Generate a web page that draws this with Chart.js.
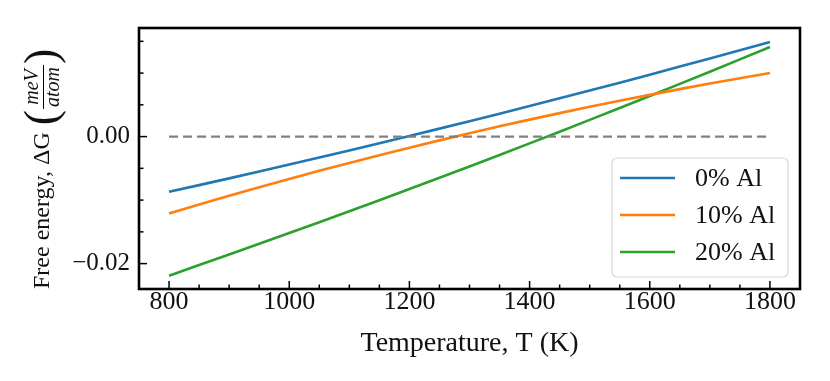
<!DOCTYPE html>
<html>
<head>
<meta charset="utf-8">
<script src="https://cdn.jsdelivr.net/npm/chart.js@4.4.1/dist/chart.umd.min.js"></script>
<style>
  html, body { margin: 0; padding: 0; background: #fff; }
  #wrap { width: 830px; height: 381px; }
</style>
</head>
<body>
<div id="wrap"><canvas id="myChart" width="830" height="381"></canvas></div>
<script>
// temperature (K)
var temps = [800, 900, 1000, 1100, 1200, 1300, 1400, 1500, 1600, 1700, 1800];

// free energy values
var al0  = [-0.0087, -0.00658, -0.00441, -0.00219, 0.00009, 0.00243, 0.00481, 0.00725, 0.00975, 0.0123, 0.0149];
var al10 = [-0.0121, -0.00932, -0.00667, -0.00415, -0.00175, 0.00053, 0.00267, 0.00469, 0.00657, 0.00836, 0.0100];
var al20 = [-0.0219, -0.01856, -0.01519, -0.01176, -0.00826, -0.0047, -0.00107, 0.00263, 0.00639, 0.01022, 0.0141];

var seriesLabels = ['0% Al', '10% Al', '20% Al'];
var seriesColors = ['#1f77b4', '#ff7f0e', '#2ca02c'];

var zeroLineT = [800, 1800];
var zeroLineG = [0, 0];

var xTicks = [800, 1000, 1200, 1400, 1600, 1800];
var yTicks = [-0.02, 0.00];

var serif = "'Liberation Serif', 'DejaVu Serif', serif";

function toPoints(xs, ys) {
    return xs.map(function(x, i) { return {x: x, y: ys[i]}; });
}

// inward ticks, box, y label and legend
var frame = {
    id: 'frame',
    afterDraw: function(chart) {
        var ctx = chart.ctx, a = chart.chartArea;
        var xs = chart.scales.x, ys = chart.scales.y;
        ctx.save();
        ctx.strokeStyle = '#000';
        ctx.lineWidth = 1.5;
        for (var t = 800; t <= 1800; t += 50) {
            var px = xs.getPixelForValue(t);
            var len = (t % 200 === 0) ? 8 : 4.5;
            ctx.beginPath();
            ctx.moveTo(px, a.bottom);
            ctx.lineTo(px, a.bottom - len);
            ctx.stroke();
        }
        for (var k = -4; k <= 3; k++) {
            var v = k * 0.005;
            var py = ys.getPixelForValue(v);
            var l2 = (k % 4 === 0) ? 8 : 4.5;
            ctx.beginPath();
            ctx.moveTo(a.left, py);
            ctx.lineTo(a.left + l2, py);
            ctx.stroke();
        }
        ctx.lineWidth = 2.6;
        ctx.strokeRect(a.left, a.top, a.right - a.left, a.bottom - a.top);

        // y label
        ctx.translate(43, 289);
        ctx.rotate(-Math.PI / 2);
        ctx.fillStyle = '#111';
        ctx.textBaseline = 'middle';
        ctx.textAlign = 'left';
        ctx.font = '24px ' + serif;
        var main = 'Free energy, \u0394G';
        ctx.fillText(main, 0, 0);
        var x0 = ctx.measureText(main).width + 7;
        ctx.font = '300 46px ' + serif;
        ctx.fillText('(', x0, 1);
        var pw = ctx.measureText('(').width;
        ctx.font = 'italic 20px ' + serif;
        var wTop = ctx.measureText('meV').width, wBot = ctx.measureText('atom').width;
        var fw = Math.max(wTop, wBot) + 4;
        var fx = x0 + pw + 1;
        ctx.textAlign = 'center';
        ctx.fillText('meV', fx + fw / 2, -10);
        ctx.fillText('atom', fx + fw / 2, 11);
        ctx.lineWidth = 1;
        ctx.beginPath();
        ctx.moveTo(fx, 0.5);
        ctx.lineTo(fx + fw, 0.5);
        ctx.stroke();
        ctx.textAlign = 'left';
        ctx.font = '300 46px ' + serif;
        ctx.fillText(')', fx + fw + 1, 1);
        ctx.restore();

        // legend
        var lx = 612, ly = 158, lw = 176, lh = 119;
        ctx.save();
        ctx.fillStyle = 'rgba(255,255,255,0.85)';
        ctx.strokeStyle = '#d6d6d6';
        ctx.lineWidth = 1.2;
        ctx.beginPath();
        ctx.roundRect(lx, ly, lw, lh, 5);
        ctx.fill();
        ctx.stroke();
        ctx.font = '26px ' + serif;
        ctx.textBaseline = 'middle';
        ctx.fillStyle = '#111';
        for (var i = 0; i < seriesLabels.length; i++) {
            var ry = 178 + i * 37;
            ctx.strokeStyle = seriesColors[i];
            ctx.lineWidth = 2.6;
            ctx.beginPath();
            ctx.moveTo(620, ry);
            ctx.lineTo(675, ry);
            ctx.stroke();
            ctx.fillText(seriesLabels[i], 695, ry + 1);
        }
        ctx.restore();
    }
};

var ctx = document.getElementById('myChart').getContext('2d');
var myChart = new Chart(ctx, {
    type: 'line',
    data: {
        datasets: [
            {label: 'zero', data: toPoints(zeroLineT, zeroLineG), borderColor: '#808080', borderWidth: 2.4, borderDash: [9, 5], pointRadius: 0},
            {label: seriesLabels[0], data: toPoints(temps, al0), borderColor: seriesColors[0], borderWidth: 2.6, pointRadius: 0, tension: 0.3},
            {label: seriesLabels[1], data: toPoints(temps, al10), borderColor: seriesColors[1], borderWidth: 2.6, pointRadius: 0, tension: 0.3},
            {label: seriesLabels[2], data: toPoints(temps, al20), borderColor: seriesColors[2], borderWidth: 2.6, pointRadius: 0, tension: 0.3}
        ]
    },
    options: {
        responsive: false,
        animation: false,
        layout: {padding: {left: 0, right: 30, top: 28, bottom: 0}},
        plugins: {legend: {display: false}, tooltip: {enabled: false}},
        scales: {
            x: {
                type: 'linear', min: 750, max: 1850,
                grid: {display: false, drawTicks: false},
                border: {display: false},
                afterBuildTicks: function(s) { s.ticks = xTicks.map(function(v) { return {value: v}; }); },
                afterFit: function(s) { s.height = 92; },
                ticks: {color: '#111', font: {family: serif, size: 26}, padding: -2, maxRotation: 0,
                        callback: function(v) { return String(v); }},
                title: {display: true, text: 'Temperature, T (K)', color: '#111', font: {family: serif, size: 28}, padding: {top: 0, bottom: 21}}
            },
            y: {
                type: 'linear', min: -0.0240, max: 0.0171,
                grid: {display: false, drawTicks: false},
                border: {display: false},
                afterBuildTicks: function(s) { s.ticks = yTicks.map(function(v) { return {value: v}; }); },
                afterFit: function(s) { s.width = 139; },
                ticks: {color: '#111', font: {family: serif, size: 25}, padding: 9,
                        callback: function(v) { return (v < 0 ? '\u2212' : '') + Math.abs(v).toFixed(2); }}
            }
        }
    },
    plugins: [frame]
});
</script>
</body>
</html>
